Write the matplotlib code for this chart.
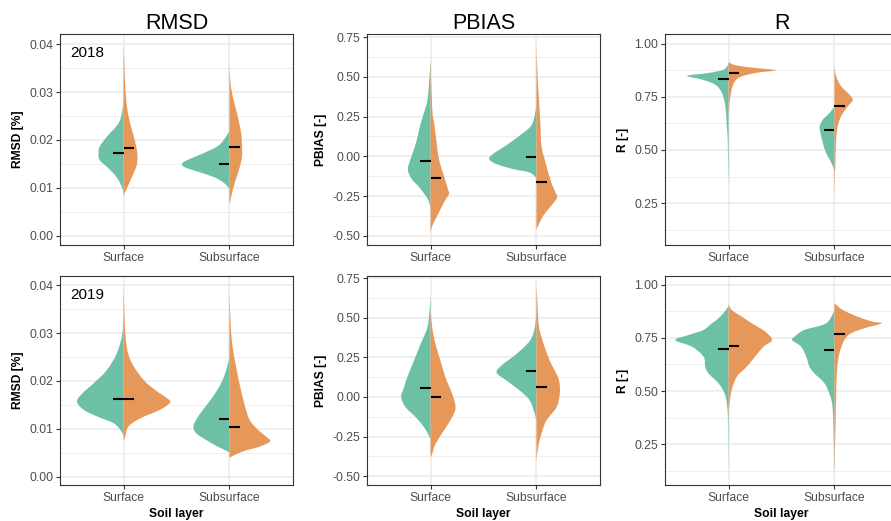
import matplotlib
matplotlib.use("Agg")
import matplotlib.pyplot as plt
from matplotlib.ticker import MultipleLocator
from matplotlib.path import Path
from matplotlib.patches import PathPatch

plt.rcParams['font.family'] = ['Liberation Sans', 'DejaVu Sans']

# ---------------- data ----------------
layers = ["Surface", "Subsurface"]
metrics = ["RMSD", "PBIAS", "R"]
ylabels = ["RMSD [%]", "PBIAS [-]", "R [-]"]
years = ["2018", "2019"]

# violin half-profiles: (value, half-width)
RMSD18_SURF_G = [(0.029, 0), (0.0263, 0.01), (0.0235, 0.047), (0.0207, 0.157), (0.0186, 0.226), (0.0172, 0.236),
                 (0.0158, 0.226), (0.0144, 0.157), (0.013, 0.094), (0.0116, 0.047), (0.0102, 0.016), (0.009, 0)]
RMSD18_SURF_O = [(0.040, 0), (0.033, 0.012), (0.0284, 0.025), (0.0249, 0.047), (0.0214, 0.088), (0.0186, 0.12),
                 (0.0165, 0.132), (0.0144, 0.12), (0.0123, 0.079), (0.0102, 0.038), (0.0089, 0.01), (0.0082, 0)]
RMSD18_SUB_G = [(0.0218, 0), (0.019, 0.094), (0.0172, 0.25), (0.016, 0.38), (0.0151, 0.447), (0.0143, 0.42),
                (0.0134, 0.3), (0.0122, 0.14), (0.011, 0.05), (0.0098, 0)]
RMSD18_SUB_O = [(0.036, 0), (0.0318, 0.01), (0.0284, 0.038), (0.0249, 0.079), (0.0214, 0.11), (0.0179, 0.12),
                (0.0158, 0.113), (0.013, 0.079), (0.0102, 0.038), (0.0075, 0.01), (0.0065, 0)]

PBIAS18_SURF_G = [(0.60, 0), (0.445, 0.016), (0.35, 0.03), (0.30, 0.05), (0.19, 0.10), (0.09, 0.135), (0.0, 0.18),
                  (-0.08, 0.214), (-0.14, 0.18), (-0.2, 0.10), (-0.27, 0.025), (-0.33, 0)]
PBIAS18_SURF_O = [(0.62, 0), (0.30, 0.016), (0.19, 0.038), (0.088, 0.057), (-0.017, 0.079), (-0.122, 0.126),
                  (-0.206, 0.164), (-0.237, 0.173), (-0.29, 0.126), (-0.374, 0.063), (-0.437, 0.016), (-0.48, 0)]
PBIAS18_SUB_G = [(0.34, 0), (0.277, 0.01), (0.193, 0.05), (0.13, 0.16), (0.067, 0.29), (0.015, 0.41), (-0.017, 0.447),
                 (-0.048, 0.38), (-0.08, 0.22), (-0.10, 0.07), (-0.13, 0.01), (-0.15, 0)]
PBIAS18_SUB_O = [(0.71, 0), (0.51, 0.01), (0.34, 0.025), (0.193, 0.038), (0.067, 0.047), (-0.059, 0.094),
                 (-0.164, 0.14), (-0.227, 0.18), (-0.26, 0.195), (-0.31, 0.14), (-0.374, 0.063), (-0.437, 0.016), (-0.46, 0)]

R18_SURF_G = [(0.905, 0), (0.879, 0.047), (0.863, 0.19), (0.85, 0.39), (0.832, 0.25), (0.808, 0.126), (0.769, 0.063),
              (0.706, 0.03), (0.61, 0.016), (0.55, 0.008), (0.42, 0.004), (0.33, 0)]
R18_SURF_O = [(0.915, 0), (0.90, 0.063), (0.887, 0.25), (0.876, 0.447), (0.863, 0.25), (0.84, 0.094), (0.80, 0.038),
              (0.737, 0.013), (0.69, 0.004), (0.66, 0)]
R18_SUB_G = [(0.706, 0), (0.674, 0.047), (0.643, 0.11), (0.61, 0.14), (0.58, 0.132), (0.533, 0.11), (0.486, 0.079),
             (0.44, 0.03), (0.41, 0.006), (0.40, 0)]
R18_SUB_O = [(0.895, 0), (0.848, 0.016), (0.80, 0.063), (0.769, 0.126), (0.737, 0.173), (0.706, 0.126), (0.659, 0.063),
             (0.61, 0.03), (0.55, 0.016), (0.455, 0.01), (0.344, 0.003), (0.28, 0)]

RMSD19_SURF_G = [(0.0348, 0), (0.030, 0.01), (0.0258, 0.063), (0.0223, 0.157), (0.0195, 0.283), (0.0174, 0.39),
                 (0.0157, 0.44), (0.014, 0.377), (0.0126, 0.25), (0.0112, 0.094), (0.0098, 0.03), (0.0085, 0)]
RMSD19_SURF_O = [(0.040, 0), (0.0327, 0.01), (0.0271, 0.03), (0.0237, 0.079), (0.0202, 0.19), (0.0181, 0.30),
                 (0.0164, 0.41), (0.0155, 0.44), (0.014, 0.346), (0.0122, 0.157), (0.0105, 0.047), (0.0084, 0.016), (0.0075, 0)]
RMSD19_SUB_G = [(0.025, 0), (0.0223, 0.03), (0.0195, 0.079), (0.0167, 0.157), (0.014, 0.25), (0.0119, 0.315),
                (0.0105, 0.34), (0.0091, 0.315), (0.0077, 0.22), (0.0063, 0.11), (0.0053, 0.016), (0.005, 0)]
RMSD19_SUB_O = [(0.0386, 0), (0.0327, 0.01), (0.0278, 0.025), (0.0237, 0.057), (0.0195, 0.094), (0.0153, 0.14),
                (0.0119, 0.19), (0.0098, 0.27), (0.0084, 0.346), (0.0074, 0.384), (0.0063, 0.283), (0.0053, 0.126),
                (0.0042, 0.016), (0.004, 0)]

PBIAS19_SURF_G = [(0.637, 0), (0.543, 0.01), (0.438, 0.03), (0.333, 0.094), (0.228, 0.157), (0.124, 0.22), (0.061, 0.25),
                  (0.0, 0.277), (-0.065, 0.236), (-0.128, 0.14), (-0.19, 0.063), (-0.233, 0.025), (-0.27, 0)]
PBIAS19_SURF_O = [(0.55, 0), (0.438, 0.016), (0.333, 0.047), (0.228, 0.094), (0.124, 0.14), (0.019, 0.204),
                  (-0.065, 0.236), (-0.128, 0.204), (-0.212, 0.126), (-0.296, 0.047), (-0.358, 0.016), (-0.38, 0)]
PBIAS19_SUB_G = [(0.55, 0), (0.438, 0.016), (0.354, 0.063), (0.27, 0.19), (0.207, 0.315), (0.155, 0.377), (0.103, 0.283),
                 (0.04, 0.157), (-0.023, 0.063), (-0.107, 0.016), (-0.15, 0)]
PBIAS19_SUB_O = [(0.71, 0), (0.585, 0.01), (0.438, 0.025), (0.312, 0.079), (0.228, 0.126), (0.166, 0.173),
                 (0.103, 0.214), (0.019, 0.22), (-0.065, 0.19), (-0.149, 0.094), (-0.233, 0.047), (-0.317, 0.016), (-0.41, 0)]

R19_SURF_G = [(0.898, 0), (0.85, 0.079), (0.819, 0.157), (0.788, 0.236), (0.764, 0.377), (0.74, 0.503), (0.709, 0.346),
              (0.662, 0.236), (0.615, 0.22), (0.583, 0.19), (0.536, 0.094), (0.489, 0.038), (0.442, 0.016),
              (0.363, 0.006), (0.10, 0)]
R19_SURF_O = [(0.91, 0), (0.882, 0.03), (0.85, 0.126), (0.819, 0.22), (0.78, 0.346), (0.74, 0.41), (0.709, 0.33),
              (0.662, 0.25), (0.615, 0.173), (0.568, 0.079), (0.505, 0.03), (0.442, 0.01), (0.40, 0)]
R19_SUB_G = [(0.88, 0), (0.819, 0.079), (0.788, 0.283), (0.756, 0.377), (0.74, 0.40), (0.709, 0.315), (0.662, 0.267),
             (0.615, 0.236), (0.583, 0.19), (0.536, 0.094), (0.473, 0.038), (0.41, 0.016), (0.253, 0.006), (0.10, 0)]
R19_SUB_O = [(0.914, 0), (0.882, 0.079), (0.85, 0.22), (0.827, 0.36), (0.819, 0.447), (0.796, 0.283), (0.772, 0.157),
             (0.74, 0.094), (0.678, 0.047), (0.60, 0.025), (0.489, 0.016), (0.332, 0.01), (0.253, 0.006), (0.10, 0)]

# medians [surface green, surface orange, subsurface green, subsurface orange]
MED_RMSD18 = [0.0172, 0.0183, 0.0150, 0.0185]
MED_PBIAS18 = [-0.032, -0.137, -0.002, -0.160]
MED_R18 = [0.835, 0.863, 0.594, 0.707]
MED_RMSD19 = [0.0163, 0.0163, 0.0121, 0.0105]
MED_PBIAS19 = [0.057, 0.0, 0.164, 0.061]
MED_R19 = [0.697, 0.712, 0.693, 0.767]

violins = {
    (0, 0): [(RMSD18_SURF_G, RMSD18_SURF_O), (RMSD18_SUB_G, RMSD18_SUB_O)],
    (0, 1): [(PBIAS18_SURF_G, PBIAS18_SURF_O), (PBIAS18_SUB_G, PBIAS18_SUB_O)],
    (0, 2): [(R18_SURF_G, R18_SURF_O), (R18_SUB_G, R18_SUB_O)],
    (1, 0): [(RMSD19_SURF_G, RMSD19_SURF_O), (RMSD19_SUB_G, RMSD19_SUB_O)],
    (1, 1): [(PBIAS19_SURF_G, PBIAS19_SURF_O), (PBIAS19_SUB_G, PBIAS19_SUB_O)],
    (1, 2): [(R19_SURF_G, R19_SURF_O), (R19_SUB_G, R19_SUB_O)],
}
medians = {(0, 0): MED_RMSD18, (0, 1): MED_PBIAS18, (0, 2): MED_R18,
           (1, 0): MED_RMSD19, (1, 1): MED_PBIAS19, (1, 2): MED_R19}

# ---------------- style ----------------
GREEN = "#6BC0A6"
ORANGE = "#E6975A"
GRID = "#EBEBEB"
BORDER = "#333333"
TICKC = "#4D4D4D"

ylims = {(0, 0): (-0.0019, 0.0421), (1, 0): (-0.0017, 0.0419),
         (0, 1): (-0.557, 0.769), (1, 1): (-0.556, 0.763),
         (0, 2): (0.052, 1.047), (1, 2): (0.057, 1.042)}
major = [0.01, 0.25, 0.25]


def half_violin(ax, x0, prof, side, color):
    """Smooth outline (Catmull-Rom as Bezier) through the profile points."""
    pts = [(p[1], p[0]) for p in prof]  # (width, value)
    n = len(pts)
    verts = [(x0, pts[0][1])]
    codes = [Path.MOVETO]
    for i in range(n - 1):
        p0 = pts[max(i - 1, 0)]
        p1 = pts[i]
        p2 = pts[i + 1]
        p3 = pts[min(i + 2, n - 1)]
        c1 = (max(p1[0] + (p2[0] - p0[0]) / 6, 0), p1[1] + (p2[1] - p0[1]) / 6)
        c2 = (max(p2[0] - (p3[0] - p1[0]) / 6, 0), p2[1] - (p3[1] - p1[1]) / 6)
        for q in (c1, c2, p2):
            verts.append((x0 + side * q[0], q[1]))
            codes.append(Path.CURVE4)
    verts.append((x0, pts[0][1]))
    codes.append(Path.LINETO)
    verts.append((x0, pts[0][1]))
    codes.append(Path.CLOSEPOLY)
    ax.add_patch(PathPatch(Path(verts, codes), facecolor=color, edgecolor="none", lw=0, zorder=2))


W, H = 891, 521
fig = plt.figure(figsize=(W / 100, H / 100), dpi=100)

lefts = [60, 367, 665]
width = 233
rows = [(34, 245), (276, 485)]

for r in range(2):
    for c in range(3):
        top, bot = rows[r]
        ax = fig.add_axes([lefts[c] / W, 1 - bot / H, width / W, (bot - top) / H])
        ax.set_xlim(0.4, 2.6)
        ax.set_ylim(*ylims[(r, c)])
        ax.yaxis.set_major_locator(MultipleLocator(major[c]))
        ax.yaxis.set_minor_locator(MultipleLocator(major[c] / 2))
        ax.set_xticks([1, 2])
        ax.set_xticklabels(layers)
        ax.yaxis.set_major_formatter(plt.FuncFormatter(lambda v, p: "{:.2f}".format(v + 0.0)))
        ax.set_axisbelow(True)
        ax.grid(True, which="major", color=GRID, lw=1.1)
        ax.grid(True, which="minor", axis="y", color=GRID, lw=0.6)
        for s in ax.spines.values():
            s.set_color(BORDER)
            s.set_linewidth(0.8)
        ax.tick_params(which="major", length=3, width=0.8, color=BORDER, labelcolor=TICKC,
                       labelsize=8.7, pad=2)
        ax.tick_params(which="minor", length=0)
        ax.set_ylabel(ylabels[c], fontsize=8.7, fontweight="bold", labelpad=3.5)
        if r == 1:
            ax.set_xlabel("Soil layer", fontsize=8.7, fontweight="bold", labelpad=3)
        if r == 0:
            ax.set_title(metrics[c], fontsize=15.5, pad=3)
        if c == 0:
            ax.text(0.043, 0.91, years[r], transform=ax.transAxes, fontsize=11,
                    ha="left", va="center", color="black")

        for i, (g, o) in enumerate(violins[(r, c)]):
            x0 = i + 1
            half_violin(ax, x0, g, -1, GREEN)
            half_violin(ax, x0, o, +1, ORANGE)
            m = medians[(r, c)]
            ax.plot([x0 - 0.1, x0], [m[2 * i], m[2 * i]], color="black", lw=1.5, zorder=3,
                    solid_capstyle="butt")
            ax.plot([x0, x0 + 0.1], [m[2 * i + 1], m[2 * i + 1]], color="black", lw=1.5, zorder=3,
                    solid_capstyle="butt")

fig.savefig("out.png", dpi=100)
